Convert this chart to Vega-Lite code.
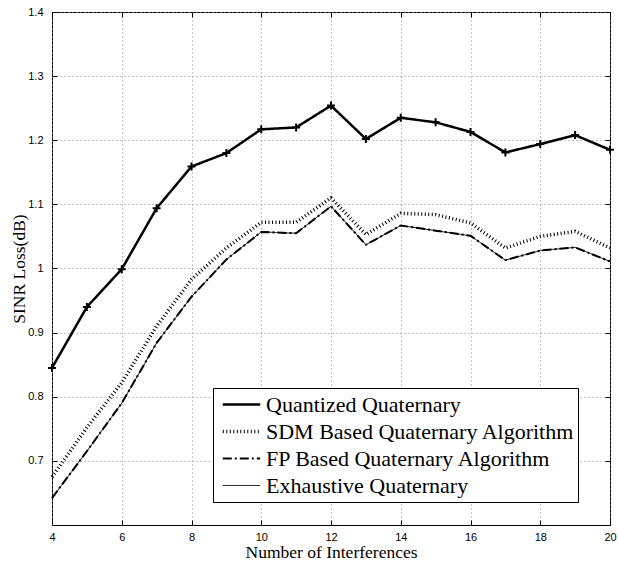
{
  "$schema": "https://vega.github.io/schema/vega-lite/v6.json",
  "width": 558,
  "height": 513,
  "autosize": {"type": "none"},
  "padding": {"left": 52, "top": 12, "right": 8, "bottom": 36},
  "background": "white",
  "config": {
    "view": {"stroke": "black", "strokeWidth": 1},
    "axis": {
      "domain": false,
      "tickColor": "black",
      "tickSize": -5,
      "tickWidth": 1,
      "labelFont": "Liberation Sans",
      "labelFontSize": 11,
      "labelColor": "black",
      "titleFont": "Liberation Serif",
      "titleFontWeight": "normal",
      "titleColor": "black",
      "gridColor": "#888888",
      "gridDash": [1, 3],
      "gridWidth": 1,
      "gridOpacity": 1
    }
  },
  "data": {
    "values": [
      {"x": 4, "series": "Quantized Quaternary", "y": 0.845},
      {"x": 5, "series": "Quantized Quaternary", "y": 0.940},
      {"x": 6, "series": "Quantized Quaternary", "y": 0.999},
      {"x": 7, "series": "Quantized Quaternary", "y": 1.094},
      {"x": 8, "series": "Quantized Quaternary", "y": 1.159},
      {"x": 9, "series": "Quantized Quaternary", "y": 1.180},
      {"x": 10, "series": "Quantized Quaternary", "y": 1.217},
      {"x": 11, "series": "Quantized Quaternary", "y": 1.220},
      {"x": 12, "series": "Quantized Quaternary", "y": 1.254},
      {"x": 13, "series": "Quantized Quaternary", "y": 1.202},
      {"x": 14, "series": "Quantized Quaternary", "y": 1.235},
      {"x": 15, "series": "Quantized Quaternary", "y": 1.228},
      {"x": 16, "series": "Quantized Quaternary", "y": 1.213},
      {"x": 17, "series": "Quantized Quaternary", "y": 1.181},
      {"x": 18, "series": "Quantized Quaternary", "y": 1.194},
      {"x": 19, "series": "Quantized Quaternary", "y": 1.208},
      {"x": 20, "series": "Quantized Quaternary", "y": 1.185},
      {"x": 4, "series": "SDM Based Quaternary Algorithm", "y": 0.675},
      {"x": 5, "series": "SDM Based Quaternary Algorithm", "y": 0.752},
      {"x": 6, "series": "SDM Based Quaternary Algorithm", "y": 0.822},
      {"x": 7, "series": "SDM Based Quaternary Algorithm", "y": 0.910},
      {"x": 8, "series": "SDM Based Quaternary Algorithm", "y": 0.983},
      {"x": 9, "series": "SDM Based Quaternary Algorithm", "y": 1.032},
      {"x": 10, "series": "SDM Based Quaternary Algorithm", "y": 1.072},
      {"x": 11, "series": "SDM Based Quaternary Algorithm", "y": 1.072},
      {"x": 12, "series": "SDM Based Quaternary Algorithm", "y": 1.110},
      {"x": 13, "series": "SDM Based Quaternary Algorithm", "y": 1.053},
      {"x": 14, "series": "SDM Based Quaternary Algorithm", "y": 1.086},
      {"x": 15, "series": "SDM Based Quaternary Algorithm", "y": 1.084},
      {"x": 16, "series": "SDM Based Quaternary Algorithm", "y": 1.071},
      {"x": 17, "series": "SDM Based Quaternary Algorithm", "y": 1.032},
      {"x": 18, "series": "SDM Based Quaternary Algorithm", "y": 1.050},
      {"x": 19, "series": "SDM Based Quaternary Algorithm", "y": 1.058},
      {"x": 20, "series": "SDM Based Quaternary Algorithm", "y": 1.032},
      {"x": 4, "series": "FP Based Quaternary Algorithm", "y": 0.642},
      {"x": 5, "series": "FP Based Quaternary Algorithm", "y": 0.715},
      {"x": 6, "series": "FP Based Quaternary Algorithm", "y": 0.790},
      {"x": 7, "series": "FP Based Quaternary Algorithm", "y": 0.884},
      {"x": 8, "series": "FP Based Quaternary Algorithm", "y": 0.956},
      {"x": 9, "series": "FP Based Quaternary Algorithm", "y": 1.014},
      {"x": 10, "series": "FP Based Quaternary Algorithm", "y": 1.057},
      {"x": 11, "series": "FP Based Quaternary Algorithm", "y": 1.055},
      {"x": 12, "series": "FP Based Quaternary Algorithm", "y": 1.097},
      {"x": 13, "series": "FP Based Quaternary Algorithm", "y": 1.037},
      {"x": 14, "series": "FP Based Quaternary Algorithm", "y": 1.067},
      {"x": 15, "series": "FP Based Quaternary Algorithm", "y": 1.059},
      {"x": 16, "series": "FP Based Quaternary Algorithm", "y": 1.051},
      {"x": 17, "series": "FP Based Quaternary Algorithm", "y": 1.013},
      {"x": 18, "series": "FP Based Quaternary Algorithm", "y": 1.028},
      {"x": 19, "series": "FP Based Quaternary Algorithm", "y": 1.033},
      {"x": 20, "series": "FP Based Quaternary Algorithm", "y": 1.011},
      {"x": 4, "series": "Exhaustive Quaternary", "y": 0.642},
      {"x": 5, "series": "Exhaustive Quaternary", "y": 0.715},
      {"x": 6, "series": "Exhaustive Quaternary", "y": 0.790},
      {"x": 7, "series": "Exhaustive Quaternary", "y": 0.884},
      {"x": 8, "series": "Exhaustive Quaternary", "y": 0.956},
      {"x": 9, "series": "Exhaustive Quaternary", "y": 1.014},
      {"x": 10, "series": "Exhaustive Quaternary", "y": 1.057},
      {"x": 11, "series": "Exhaustive Quaternary", "y": 1.055},
      {"x": 12, "series": "Exhaustive Quaternary", "y": 1.097},
      {"x": 13, "series": "Exhaustive Quaternary", "y": 1.037},
      {"x": 14, "series": "Exhaustive Quaternary", "y": 1.067},
      {"x": 15, "series": "Exhaustive Quaternary", "y": 1.059},
      {"x": 16, "series": "Exhaustive Quaternary", "y": 1.051},
      {"x": 17, "series": "Exhaustive Quaternary", "y": 1.013},
      {"x": 18, "series": "Exhaustive Quaternary", "y": 1.028},
      {"x": 19, "series": "Exhaustive Quaternary", "y": 1.033},
      {"x": 20, "series": "Exhaustive Quaternary", "y": 1.011}
    ]
  },
  "layer": [
    {
      "mark": {"type": "line", "color": "black", "strokeCap": "butt"},
      "encoding": {
        "x": {
          "field": "x", "type": "quantitative",
          "scale": {"domain": [4, 20], "nice": false, "zero": false},
          "axis": {"values": [4, 6, 8, 10, 12, 14, 16, 18, 20], "title": "Number of Interferences", "titleFontSize": 17.5, "labelPadding": 11, "titlePadding": 1, "grid": true, "labelFlush": false}
        },
        "y": {
          "field": "y", "type": "quantitative",
          "scale": {"domain": [0.6, 1.4], "nice": false, "zero": false},
          "axis": {"values": [0.7, 0.8, 0.9, 1.0, 1.1, 1.2, 1.3, 1.4], "format": "~g", "title": "SINR Loss(dB)", "titleFontSize": 17.5, "labelPadding": 14, "titlePadding": -1, "grid": true}
        },
        "detail": {"field": "series"},
        "strokeDash": {
          "field": "series", "type": "nominal",
          "scale": {
            "domain": ["Quantized Quaternary", "SDM Based Quaternary Algorithm", "FP Based Quaternary Algorithm", "Exhaustive Quaternary"],
            "range": [[1, 0], [1, 2.5], [9, 3, 2, 3], [1, 0]]
          },
          "legend": {
            "orient": "none", "legendX": 161, "legendY": 376, "title": null,
            "symbolType": "stroke", "symbolSize": 1400, "symbolStrokeColor": "black", "symbolOffset": 5,
            "labelFont": "Liberation Serif", "labelFontSize": 22, "labelColor": "black", "labelLimit": 400, "labelOffset": 4,
            "strokeColor": "black", "fillColor": "white", "padding": 3, "rowPadding": 0, "clipHeight": 27
          }
        },
        "strokeWidth": {
          "field": "series", "type": "nominal",
          "scale": {
            "type": "ordinal",
            "domain": ["Quantized Quaternary", "SDM Based Quaternary Algorithm", "FP Based Quaternary Algorithm", "Exhaustive Quaternary"],
            "range": [2.5, 3.5, 2, 1]
          },
          "legend": {
            "orient": "none", "legendX": 161, "legendY": 376, "title": null,
            "symbolType": "stroke", "symbolSize": 1400, "symbolStrokeColor": "black", "symbolOffset": 5,
            "labelFont": "Liberation Serif", "labelFontSize": 22, "labelColor": "black", "labelLimit": 400, "labelOffset": 4,
            "strokeColor": "black", "fillColor": "white", "padding": 3, "rowPadding": 0, "clipHeight": 27
          }
        }
      }
    },
    {
      "transform": [{"filter": "datum.series == 'Quantized Quaternary'"}],
      "mark": {"type": "point", "shape": "M-1,0H1M0,-1V1", "filled": false, "size": 64, "strokeWidth": 2, "color": "black", "opacity": 1},
      "encoding": {
        "x": {"field": "x", "type": "quantitative", "axis": null},
        "y": {"field": "y", "type": "quantitative", "axis": null}
      }
    },
    {
      "mark": {"type": "point", "opacity": 0},
      "encoding": {
        "x": {"field": "x", "type": "quantitative", "axis": {"orient": "top", "values": [4, 6, 8, 10, 12, 14, 16, 18, 20], "labels": false, "title": null, "grid": false}},
        "y": {"field": "y", "type": "quantitative", "axis": {"orient": "right", "values": [0.7, 0.8, 0.9, 1.0, 1.1, 1.2, 1.3, 1.4], "labels": false, "title": null, "grid": false}}
      }
    }
  ],
  "resolve": {"axis": {"x": "independent", "y": "independent"}}
}
